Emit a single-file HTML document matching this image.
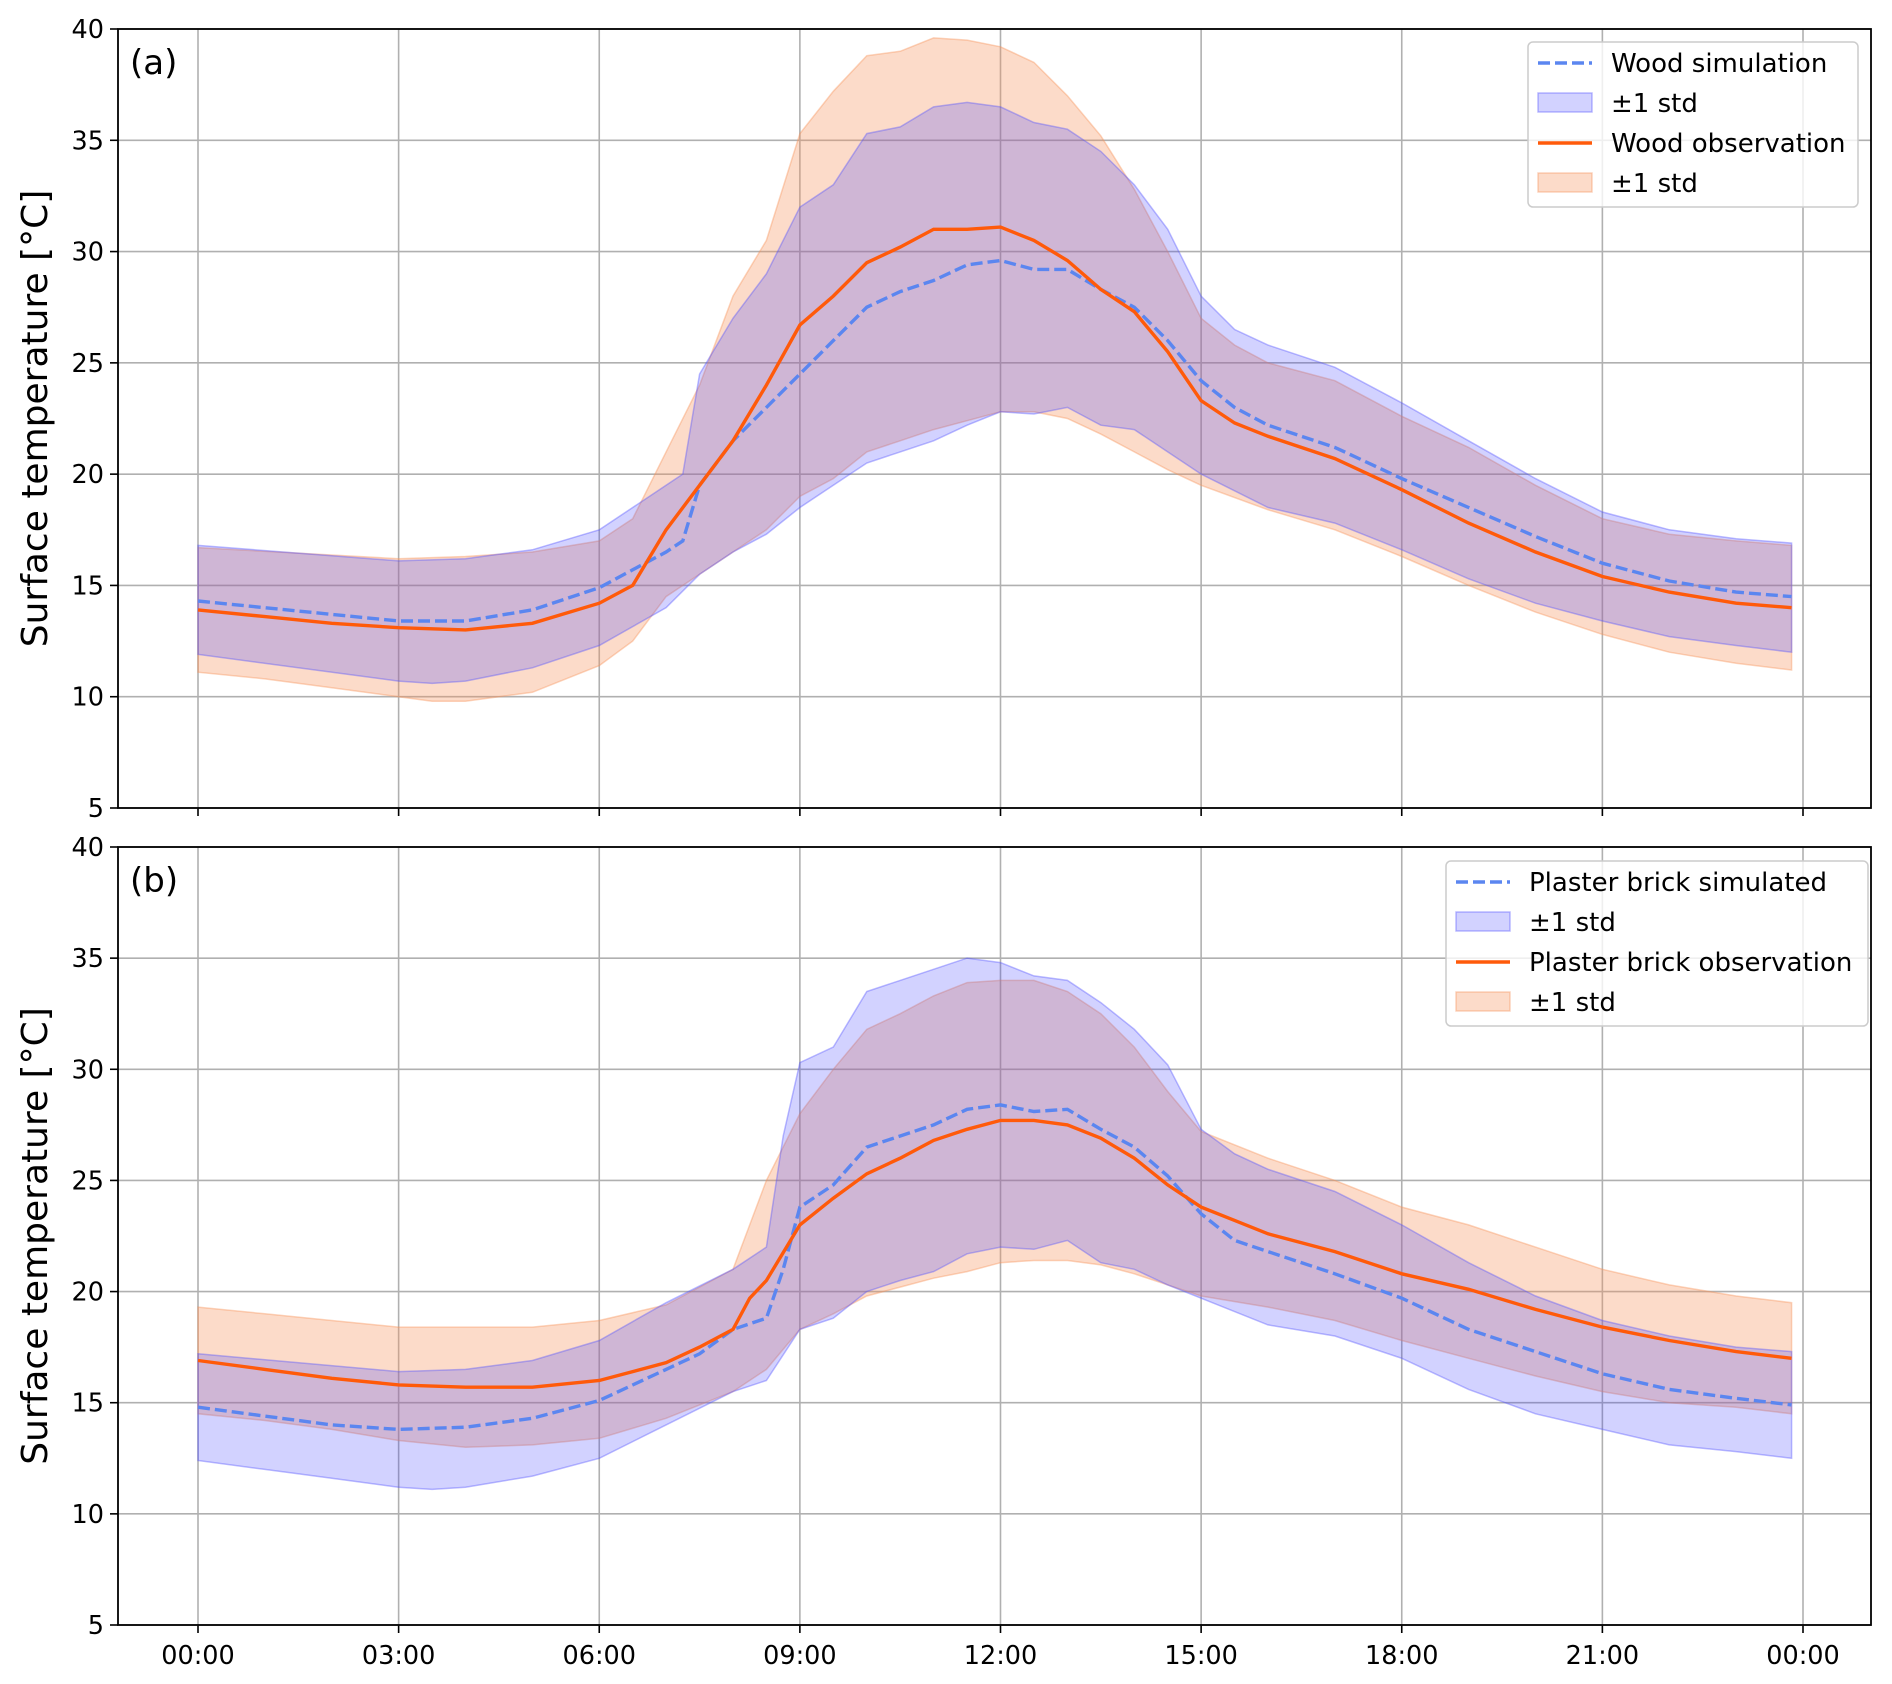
<!DOCTYPE html>
<html><head><meta charset="utf-8"><style>
body{margin:0;background:#fff}
svg{display:block;font-family:"DejaVu Sans","Liberation Sans",sans-serif}
</style></head><body>
<svg id="chart" width="1892" height="1684" viewBox="0 0 1892 1684" xmlns="http://www.w3.org/2000/svg"></svg>
<script>
// ---------- data (hours, °C) ----------
const xTickLabels = ["00:00","03:00","06:00","09:00","12:00","15:00","18:00","21:00","00:00"];
const yTickValues = [5,10,15,20,25,30,35,40];

const woodSimMean = [[0,14.3],[1,14.0],[2,13.7],[3,13.4],[4,13.4],[5,13.9],[6,14.9],[6.5,15.7],[7,16.5],[7.25,17.0],[7.5,19.5],[8,21.5],[8.5,23],[9,24.5],[9.5,26],[10,27.5],[10.5,28.2],[11,28.7],[11.5,29.4],[12,29.6],[12.5,29.2],[13,29.2],[13.5,28.3],[14,27.5],[14.5,26],[15,24.2],[15.5,23],[16,22.2],[17,21.2],[18,19.8],[19,18.5],[20,17.2],[21,16],[22,15.2],[23,14.7],[23.83,14.5]];
const woodSimUpper = [[0,16.8],[3,16.1],[4,16.2],[5,16.6],[6,17.5],[6.5,18.5],[7,19.5],[7.25,20],[7.5,24.5],[8,27],[8.5,29],[9,32],[9.5,33],[10,35.3],[10.5,35.6],[11,36.5],[11.5,36.7],[12,36.5],[12.5,35.8],[13,35.5],[13.5,34.5],[14,33],[14.5,31],[15,28],[15.5,26.5],[16,25.8],[17,24.8],[18,23.2],[19,21.5],[20,19.8],[21,18.3],[22,17.5],[23,17.1],[23.83,16.9]];
const woodSimLower = [[0,11.9],[3,10.7],[3.5,10.6],[4,10.7],[5,11.3],[6,12.3],[7,14],[7.5,15.5],[8,16.5],[8.5,17.3],[9,18.5],[9.5,19.5],[10,20.5],[10.5,21],[11,21.5],[11.5,22.2],[12,22.8],[12.5,22.7],[13,23],[13.5,22.2],[14,22],[14.5,21],[15,20],[16,18.5],[17,17.8],[18,16.6],[19,15.3],[20,14.2],[21,13.4],[22,12.7],[23,12.3],[23.83,12]];
const woodObsMean = [[0,13.9],[1,13.6],[2,13.3],[3,13.1],[4,13.0],[5,13.3],[6,14.2],[6.5,15.0],[7,17.5],[7.5,19.5],[8,21.5],[8.5,24],[9,26.7],[9.5,28],[10,29.5],[10.5,30.2],[11,31],[11.5,31],[12,31.1],[12.5,30.5],[13,29.6],[13.5,28.3],[14,27.3],[14.5,25.5],[15,23.3],[15.5,22.3],[16,21.7],[17,20.7],[18,19.3],[19,17.8],[20,16.5],[21,15.4],[22,14.7],[23,14.2],[23.83,14.0]];
const woodObsUpper = [[0,16.7],[3,16.2],[4,16.3],[5,16.5],[6,17],[6.5,18],[7,21],[7.5,24],[8,28],[8.5,30.5],[9,35.3],[9.5,37.2],[10,38.8],[10.5,39],[11,39.6],[11.5,39.5],[12,39.2],[12.5,38.5],[13,37],[13.5,35.2],[14,32.8],[14.5,30],[15,27],[15.5,25.8],[16,25],[17,24.2],[18,22.6],[19,21.2],[20,19.5],[21,18],[22,17.3],[23,17],[23.83,16.8]];
const woodObsLower = [[0,11.1],[1,10.8],[2,10.4],[3,10],[3.5,9.8],[4,9.8],[5,10.2],[6,11.4],[6.5,12.5],[7,14.5],[7.5,15.5],[8,16.5],[8.5,17.5],[9,19],[9.5,19.8],[10,21],[10.5,21.5],[11,22],[11.5,22.4],[12,22.8],[12.5,22.8],[13,22.5],[13.5,21.8],[14,21],[14.5,20.2],[15,19.5],[16,18.4],[17,17.5],[18,16.3],[19,15],[20,13.8],[21,12.8],[22,12],[23,11.5],[23.83,11.2]];

const brickSimMean = [[0,14.8],[1,14.4],[2,14.0],[3,13.8],[4,13.9],[5,14.3],[6,15.1],[7,16.5],[7.5,17.2],[8,18.3],[8.5,18.8],[8.75,21],[9,23.8],[9.5,24.8],[10,26.5],[10.5,27],[11,27.5],[11.5,28.2],[12,28.4],[12.5,28.1],[13,28.2],[13.5,27.3],[14,26.5],[14.5,25.2],[15,23.5],[15.5,22.3],[16,21.8],[17,20.8],[18,19.7],[19,18.3],[20,17.3],[21,16.3],[22,15.6],[23,15.2],[23.83,14.9]];
const brickSimUpper = [[0,17.2],[3,16.4],[4,16.5],[5,16.9],[6,17.8],[7,19.5],[8,21],[8.5,22],[8.75,27],[9,30.3],[9.5,31],[10,33.5],[10.5,34],[11,34.5],[11.5,35],[12,34.8],[12.5,34.2],[13,34],[13.5,33],[14,31.8],[14.5,30.2],[15,27.3],[15.5,26.2],[16,25.5],[17,24.5],[18,23],[19,21.3],[20,19.8],[21,18.7],[22,18],[23,17.5],[23.83,17.3]];
const brickSimLower = [[0,12.4],[1,12.0],[2,11.6],[3,11.2],[3.5,11.1],[4,11.2],[5,11.7],[6,12.5],[7,14],[8,15.5],[8.5,16],[9,18.3],[9.5,18.8],[10,20],[10.5,20.5],[11,20.9],[11.5,21.7],[12,22],[12.5,21.9],[13,22.3],[13.5,21.3],[14,21],[14.5,20.3],[15,19.7],[16,18.5],[17,18],[18,17],[19,15.6],[20,14.5],[21,13.8],[22,13.1],[23,12.8],[23.83,12.5]];
const brickObsMean = [[0,16.9],[1,16.5],[2,16.1],[3,15.8],[4,15.7],[5,15.7],[6,16],[7,16.8],[7.5,17.5],[8,18.3],[8.25,19.7],[8.5,20.5],[9,23],[9.5,24.2],[10,25.3],[10.5,26],[11,26.8],[11.5,27.3],[12,27.7],[12.5,27.7],[13,27.5],[13.5,26.9],[14,26],[14.5,24.8],[15,23.8],[15.5,23.2],[16,22.6],[17,21.8],[18,20.8],[19,20.1],[20,19.2],[21,18.4],[22,17.8],[23,17.3],[23.83,17.0]];
const brickObsUpper = [[0,19.3],[1,19],[2,18.7],[3,18.4],[4,18.4],[5,18.4],[6,18.7],[7,19.4],[8,21],[8.25,23],[8.5,25],[9,28],[9.5,30],[10,31.8],[10.5,32.5],[11,33.3],[11.5,33.9],[12,34],[12.5,34],[13,33.5],[13.5,32.5],[14,31],[14.5,29],[15,27.2],[16,26],[17,25],[18,23.8],[19,23],[20,22],[21,21],[22,20.3],[23,19.8],[23.83,19.5]];
const brickObsLower = [[0,14.5],[1,14.2],[2,13.8],[3,13.3],[4,13],[5,13.1],[6,13.4],[7,14.3],[8,15.5],[8.5,16.5],[9,18.3],[9.5,19],[10,19.8],[10.5,20.2],[11,20.6],[11.5,20.9],[12,21.3],[12.5,21.4],[13,21.4],[13.5,21.2],[14,20.8],[14.5,20.3],[15,19.8],[16,19.3],[17,18.7],[18,17.8],[19,17],[20,16.2],[21,15.5],[22,15],[23,14.8],[23.83,14.5]];

// ---------- drawing ----------
const NS = "http://www.w3.org/2000/svg";
const svg = document.getElementById("chart");
const X0 = 118, X1 = 1871, T0 = 198, T24 = 1803;
const xs = h => T0 + (T24 - T0) * h / 24;
function mk(tag, attrs, parent) {
  const e = document.createElementNS(NS, tag);
  for (const k in attrs) e.setAttribute(k, attrs[k]);
  (parent || svg).appendChild(e);
  return e;
}
function pathOf(arr, ys) { return arr.map((p, i) => (i ? "L" : "M") + xs(p[0]).toFixed(1) + "," + ys(p[1]).toFixed(1)).join(" "); }
function bandOf(up, lo, ys) {
  return pathOf(up, ys) + " " + lo.slice().reverse().map(p => "L" + xs(p[0]).toFixed(1) + "," + ys(p[1]).toFixed(1)).join(" ") + " Z";
}

function panel(id, top, bottom, label, simM, simU, simL, obsM, obsU, obsL, legNames, leg, showXLabels) {
  const g = mk("g", {});
  
  
  const ys = v => bottom - (bottom - top) * (v - 5) / 35;
  for (let i = 0; i < xTickLabels.length; i++) {
    const x = xs(i * 3);
    const gl = mk("line", {x1: x, x2: x, y1: top, y2: bottom, stroke: "#b0b0b0", "stroke-width": 1.6}, g);
    
    
    const tk = mk("line", {x1: x, x2: x, y1: bottom, y2: bottom + 8, stroke: "#000", "stroke-width": 1.6}, g);
    
    
    if (showXLabels) {
      const t = mk("text", {x: x, y: bottom + 39, "text-anchor": "middle", "font-size": 25.5, fill: "#000"}, g);
      t.textContent = xTickLabels[i];
      
      
    }
  }
  for (const v of yTickValues) {
    const y = ys(v);
    const gl = mk("line", {x1: X0, x2: X1, y1: y, y2: y, stroke: "#b0b0b0", "stroke-width": 1.6}, g);
    
    
    const tk = mk("line", {x1: X0 - 8, x2: X0, y1: y, y2: y, stroke: "#000", "stroke-width": 1.6}, g);
    
    
    const t = mk("text", {x: X0 - 14, y: y + 9, "text-anchor": "end", "font-size": 25.5, fill: "#000"}, g);
    t.textContent = v;
    
    
  }
  const ob = mk("path", {d: bandOf(obsU, obsL, ys), fill: "#f7935a", "fill-opacity": 0.33, stroke: "#f7935a", "stroke-opacity": 0.4, "stroke-width": 1.5}, g);
  
  
  const sb = mk("path", {d: bandOf(simU, simL, ys), fill: "#3333ff", "fill-opacity": 0.22, stroke: "#5555ff", "stroke-opacity": 0.4, "stroke-width": 1.5}, g);
  
  
  const sl = mk("path", {d: pathOf(simM, ys), fill: "none", stroke: "#5b86f0", "stroke-width": 3.4, "stroke-dasharray": "12,5"}, g);
  
  
  const ol = mk("path", {d: pathOf(obsM, ys), fill: "none", stroke: "#ff5a0a", "stroke-width": 3.4}, g);
  
  
  const fr = mk("rect", {x: X0, y: top, width: X1 - X0, height: bottom - top, fill: "none", stroke: "#000", "stroke-width": 1.8}, g);
  
  
  const pl = mk("text", {x: 130, y: top + 45, "font-size": 34, fill: "#000"}, g);
  pl.textContent = label;
  
  
  const yc = (top + bottom) / 2;
  const yt = mk("text", {x: 47, y: yc, transform: "rotate(-90 47 " + yc + ")", "text-anchor": "middle", "font-size": 36, fill: "#000"}, g);
  yt.textContent = "Surface temperature [°C]";
  
  
  const lg = mk("g", {}, g);
  
  
  const lb = mk("rect", {x: leg.x, y: leg.y, width: leg.w, height: 165, rx: 5, fill: "#fff", "fill-opacity": 0.8, stroke: "#cccccc", "stroke-width": 1.5}, lg);
  
  
  const rows = [0, 1, 2, 3].map(i => leg.y + 21 + i * 40);
  const sx = leg.x + 10;
  let e;
  e = mk("line", {x1: sx, x2: sx + 54, y1: rows[0], y2: rows[0], stroke: "#5b86f0", "stroke-width": 3.4, "stroke-dasharray": "12,5"}, lg);
  
  
  e = mk("rect", {x: sx, y: rows[1] - 10, width: 54, height: 19, fill: "#3333ff", "fill-opacity": 0.22, stroke: "#5555ff", "stroke-opacity": 0.4, "stroke-width": 1.5}, lg);
  
  
  e = mk("line", {x1: sx, x2: sx + 54, y1: rows[2], y2: rows[2], stroke: "#ff5a0a", "stroke-width": 3.4}, lg);
  
  
  e = mk("rect", {x: sx, y: rows[3] - 10, width: 54, height: 19, fill: "#f7935a", "fill-opacity": 0.33, stroke: "#f7935a", "stroke-opacity": 0.4, "stroke-width": 1.5}, lg);
  
  
  for (let i = 0; i < 4; i++) {
    const t = mk("text", {x: sx + 73, y: rows[i] + 9, "font-size": 26, fill: "#000"}, lg);
    t.textContent = legNames[i];
    
    
  }
}

panel("panel-a-wood", 29, 808, "(a)", woodSimMean, woodSimUpper, woodSimLower, woodObsMean, woodObsUpper, woodObsLower,
  ["Wood simulation", "±1 std", "Wood observation", "±1 std"], {x: 1528, y: 42, w: 330}, false);
panel("panel-b-plaster-brick", 847, 1625, "(b)", brickSimMean, brickSimUpper, brickSimLower, brickObsMean, brickObsUpper, brickObsLower,
  ["Plaster brick simulated", "±1 std", "Plaster brick observation", "±1 std"], {x: 1446, y: 861, w: 422}, true);
</script>
</body></html>
